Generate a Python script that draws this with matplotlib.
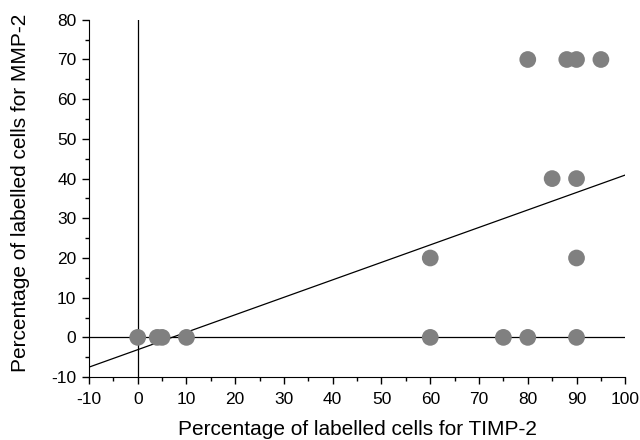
import numpy as np
import matplotlib
matplotlib.use("Agg")
import matplotlib.pyplot as plt
from matplotlib.ticker import MultipleLocator

plt.rcParams['font.family'] = ['Liberation Sans', 'DejaVu Sans']
plt.rcParams['axes.unicode_minus'] = False

# data
timp2 = [0, 4, 5, 10, 60, 75, 80, 90, 60, 90, 85, 90, 80, 88, 90, 95]
mmp2 = [0, 0, 0, 0, 0, 0, 0, 0, 20, 20, 40, 40, 70, 70, 70, 70]
fit_slope = 0.44
fit_intercept = -3.1

fig = plt.figure(figsize=(6.4, 4.4), dpi=100)
ax = fig.add_axes([0.139, 0.143, 0.838, 0.812])

ax.axhline(0, color='black', lw=0.9, zorder=1)
ax.axvline(0, color='black', lw=0.9, zorder=1)
xl = np.array([-10, 100])
ax.plot(xl, fit_intercept + fit_slope * xl, color='black', lw=0.9, zorder=1)
ax.scatter(timp2, mmp2, s=145, color='#808080', edgecolors='none', zorder=3)

ax.set_xlim(-10, 100)
ax.set_ylim(-10, 80)
ax.xaxis.set_major_locator(MultipleLocator(10))
ax.xaxis.set_minor_locator(MultipleLocator(5))
ax.yaxis.set_major_locator(MultipleLocator(10))
ax.yaxis.set_minor_locator(MultipleLocator(5))
for s in ['top', 'right']:
    ax.spines[s].set_visible(False)
ax.tick_params(which='major', direction='out', length=5, width=1, labelsize=12.5)
ax.tick_params(which='minor', direction='out', length=3, width=1)
ax.tick_params(axis='x', which='major', pad=6)
ax.tick_params(axis='y', which='major', pad=4)

ax.set_xlabel('Percentage of labelled cells for TIMP-2', fontsize=15)
ax.set_ylabel('Percentage of labelled cells for MMP-2', fontsize=15)
ax.xaxis.set_label_coords(0.5, -0.12)
ax.yaxis.set_label_coords(-0.11, 0.515)

fig.savefig('out.png', dpi=100)
